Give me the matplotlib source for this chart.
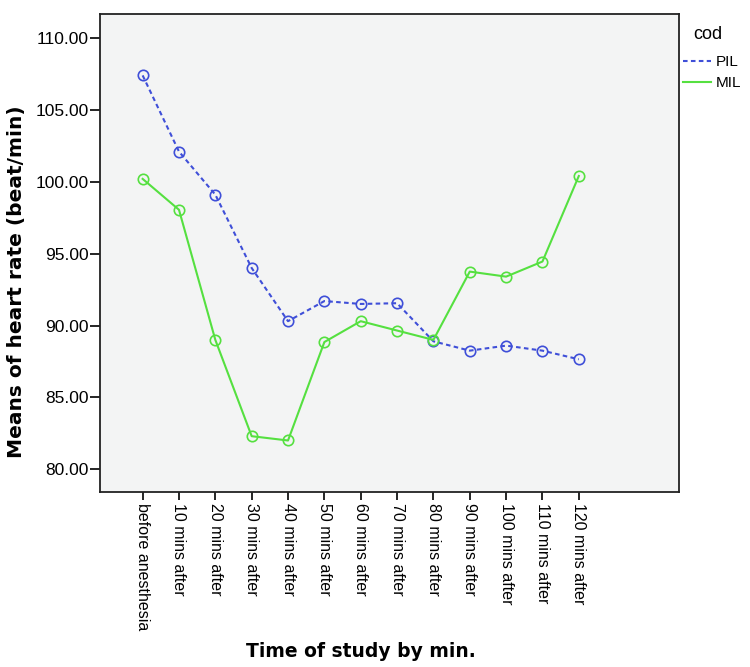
import numpy as np
import matplotlib.pyplot as plt

plt.rcParams['font.family'] = ['Liberation Sans', 'DejaVu Sans']

# categories and series
times = ['before anesthesia', '10 mins after', '20 mins after', '30 mins after',
         '40 mins after', '50 mins after', '60 mins after', '70 mins after',
         '80 mins after', '90 mins after', '100 mins after', '110 mins after',
         '120 mins after']
pil = [107.4, 102.1, 99.1, 94.0, 90.3, 91.7, 91.5, 91.55, 88.9, 88.25, 88.6, 88.25, 87.65]
mil = [100.2, 98.05, 89.0, 82.3, 82.0, 88.85, 90.3, 89.65, 89.0, 93.75, 93.4, 94.45, 100.4]

blue = '#3f4fd8'
green = '#55e040'

fig = plt.figure(figsize=(7.5, 6.67), dpi=100)
ax = fig.add_axes([0.133, 0.262, 0.772, 0.717])
ax.set_facecolor('#f3f4f4')

x = np.arange(len(times))
ax.plot(x, pil, color=blue, ls=(0, (2.2, 1.6)), lw=1.5, marker='o', ms=7.5,
        mfc='none', mec=blue, mew=1.2, label='PIL')
ax.plot(x, mil, color=green, ls='-', lw=1.5, marker='o', ms=7.5,
        mfc='none', mec=green, mew=1.2, label='MIL')

ax.set_xlim(-1.18, 14.75)
ax.set_ylim(78.4, 111.67)
ax.set_xticks(x)
ax.set_xticklabels(times, rotation=270, fontsize=11.5)
ax.set_yticks(np.arange(80, 111, 5))
ax.set_yticklabels(['%.2f' % v for v in np.arange(80, 111, 5)], fontsize=12.5)
ax.tick_params(axis='y', direction='out', length=7, width=1.2, color='black', pad=1)
ax.tick_params(axis='x', direction='out', length=6, width=1.2, color='black', pad=2)

for s in ax.spines.values():
    s.set_linewidth(1.3)
    s.set_color('#222222')

fig.text(0.022, 0.578, 'Means of heart rate (beat/min)', rotation=90, ha='center',
         va='center', fontsize=14.5, fontweight='bold', family='DejaVu Sans')
fig.text(0.481, 0.0225, 'Time of study by min.', ha='center', va='center',
         fontsize=13.5, fontweight='bold', family='DejaVu Sans')

# legend title drawn separately so the gap above the entries matches
fig.text(0.944, 0.949, 'cod', ha='center', va='center', fontsize=13)
leg = ax.legend(loc='upper left', bbox_to_anchor=(1.008, 0.914), frameon=False,
                fontsize=11, handlelength=1.8, handletextpad=0.3,
                labelspacing=0.45, borderaxespad=0, borderpad=0)
for h in leg.legend_handles:
    h.set_marker('')

fig.savefig('out.png', dpi=100)
